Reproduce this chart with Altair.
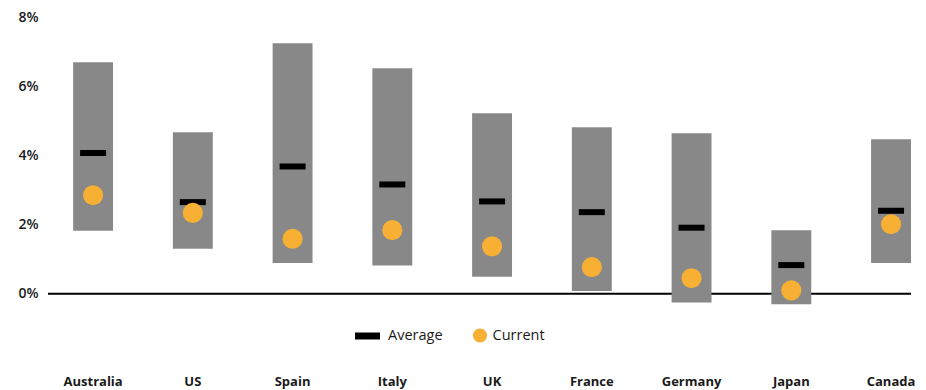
import altair as alt
import pandas as pd

countries = ["Australia", "US", "Spain", "Italy", "UK", "France", "Germany", "Japan", "Canada"]
range_high = [6.69, 4.67, 7.24, 6.52, 5.22, 4.81, 4.64, 1.84, 4.47]
range_low = [1.82, 1.30, 0.89, 0.82, 0.49, 0.08, -0.25, -0.30, 0.89]
average = [4.07, 2.65, 3.68, 3.16, 2.67, 2.36, 1.91, 0.83, 2.40]
current = [2.85, 2.34, 1.59, 1.84, 1.37, 0.77, 0.45, 0.10, 2.01]
y_ticks = [0, 2, 4, 6, 8]

df = pd.DataFrame({
    "country": countries,
    "high": range_high,
    "low": range_low,
    "avg": average,
    "cur": current,
    "s_avg": ["Average"] * len(countries),
    "s_cur": ["Current"] * len(countries),
})

FONT = "Open Sans"
GRAY = "#888888"
ORANGE = "#F7B033"

x_enc = alt.X(
    "country:N",
    sort=countries,
    title=None,
    scale=alt.Scale(paddingInner=0.6, paddingOuter=0.126, align=1),
    axis=alt.Axis(
        labelAngle=0, domain=False, ticks=False, labelPadding=12,
        labelFont=FONT, labelFontSize=13, labelFontWeight="bold", labelColor="#1a1a1a",
    ),
)
y_scale = alt.Scale(domain=[-2, 8], nice=False, zero=False)

base = alt.Chart(df)

zero_rule = alt.Chart(pd.DataFrame({"v": [0]})).mark_rule(color="black", strokeWidth=2).encode(
    y=alt.Y("v:Q", scale=y_scale)
)

bars = base.mark_bar(color=GRAY).encode(
    x=x_enc,
    y=alt.Y(
        "low:Q",
        scale=y_scale,
        title=None,
        axis=alt.Axis(
            values=y_ticks, labelExpr="datum.value + '%'", grid=False, domain=False,
            ticks=False, labelPadding=10, labelFont=FONT, labelFontSize=14,
            labelFontWeight=600, labelColor="#1a1a1a",
        ),
    ),
    y2="high:Q",
)

ticks = base.mark_tick(size=26, thickness=6, opacity=1).encode(
    x=alt.X("country:N", sort=countries),
    y=alt.Y("avg:Q", scale=y_scale),
    color=alt.Color(
        "s_avg:N",
        scale=alt.Scale(domain=["Average"], range=["black"]),
        legend=alt.Legend(
            title=None, orient="none", legendX=307, legendY=306.5,
            symbolType="M-1,-0.28H1V0.28H-1Z", symbolSize=625, symbolStrokeWidth=0,
            symbolFillColor="black", labelFont=FONT, labelFontSize=14.5, labelColor="#1a1a1a",
            labelOffset=8, padding=0,
        ),
    ),
)

circles = base.mark_circle(size=405, opacity=1).encode(
    x=alt.X("country:N", sort=countries),
    y=alt.Y("cur:Q", scale=y_scale),
    color=alt.Color(
        "s_cur:N",
        scale=alt.Scale(domain=["Current"], range=[ORANGE]),
        legend=alt.Legend(
            title=None, orient="none", legendX=424.5, legendY=311,
            symbolType="circle", symbolSize=200, symbolStrokeWidth=0,
            symbolOpacity=1, labelFont=FONT, labelFontSize=14.5, labelColor="#1a1a1a",
            labelOffset=5, padding=0,
        ),
    ),
)

chart = (
    alt.layer(zero_rule, bars, ticks, circles)
    .resolve_scale(color="independent")
    .resolve_legend(color="independent")
    .properties(
        width=863, height=346,
        padding={"left": 48, "top": 17, "right": 15, "bottom": 27},
        autosize=alt.AutoSizeParams(type="none"),
        background="white",
    )
    .configure_view(stroke=None)
)

chart.save("out.html", embed_options={"renderer": "svg", "actions": False})
